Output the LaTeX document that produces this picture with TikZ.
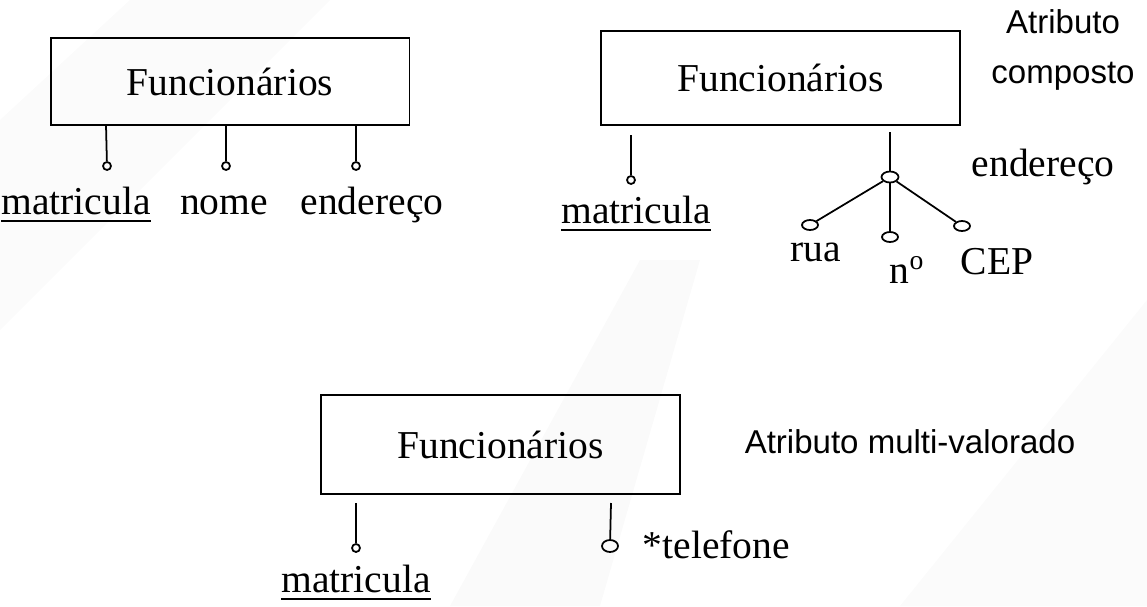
\documentclass[tikz,border=0pt]{standalone}
\usepackage{fontspec}
\setmainfont{Liberation Serif}
\newfontfamily\arialfont{Liberation Sans}
\usetikzlibrary{shapes.geometric}

\newcommand{\chave}[1]{\setbox0\hbox{#1}\rlap{\rule[-0.19em]{\wd0}{0.07em}}\box0}

\tikzset{
  entidade/.style={draw, line width=1.1pt, minimum width=7.18cm, inner sep=0pt,
    font=\fontsize{22.5}{27}\selectfont},
  atrib/.style={circle, draw, inner sep=0pt, minimum size=0.16cm},
  atribcomp/.style={ellipse, draw, inner sep=0pt, minimum width=0.34cm, minimum height=0.22cm},
  rotulo/.style={inner sep=0pt, font=\fontsize{22.5}{27}\selectfont},
  nota/.style={inner sep=0pt, align=center, font=\arialfont\fontsize{18.8}{28.4}\selectfont},
}

\begin{document}
\begin{tikzpicture}[x=0.02cm, y=-0.02cm, line width=1pt]
\useasboundingbox (0,0) rectangle (1147,606);
% fundo
\fill[gray!3] (0,120) -- (130,0) -- (330,0) -- (0,330) -- cycle;
\fill[gray!4] (450,606) -- (640,260) -- (700,260) -- (600,606) -- cycle;
\fill[gray!3] (900,606) -- (1147,300) -- (1147,606) -- cycle;

% entidade com atributos simples
\node[entidade, minimum height=1.74cm] (f1) at (230,81.5) {Funcionários};
\node[atrib] (a1) at (107,166) {};
\node[atrib] (a2) at (226,166) {};
\node[atrib] (a3) at (356,166) {};
\coordinate (t1) at (106,125);
\coordinate (t2) at (226,125);
\coordinate (t3) at (356,125);
\draw (t1) -- (a1);
\draw (t2) -- (a2);
\draw (t3) -- (a3);
\node[rotulo] (m1) at (76,205) {\chave{matricula}};
\node[rotulo] (n1) at (224,205) {nome};
\node[rotulo] (e1) at (372,205) {endereço};

% atributo composto
\node[entidade, minimum height=1.88cm] (f2) at (780.5,78) {Funcionários};
\node[atrib] (a4) at (631,180) {};
\node[atribcomp] (end) at (890,177) {};
\node[atribcomp, minimum width=0.32cm, minimum height=0.2cm] (rua) at (810,225) {};
\node[atribcomp, minimum width=0.32cm, minimum height=0.2cm] (num) at (890,237) {};
\node[atribcomp, minimum width=0.32cm, minimum height=0.2cm] (cep) at (962,226) {};
\coordinate (t4) at (631,135);
\coordinate (t5) at (890,132);
\draw (t4) -- (a4);
\draw (t5) -- (end);
\draw (end) -- (rua);
\draw (end) -- (num);
\draw (end) -- (cep);
\node[rotulo] (m2) at (636,214) {\chave{matricula}};
\node[rotulo] (e2) at (1043,167) {endereço};
\node[rotulo] (l1) at (816,252) {rua};
\node[rotulo] (l2) at (907,270) {n\textsuperscript{o}};
\node[rotulo] (l3) at (997,262) {CEP};
\node[nota] (c1) at (1063,50) {Atributo\\composto};

% atributo multivalorado
\node[entidade, minimum height=1.98cm] (f3) at (500.5,444.5) {Funcionários};
\node[atrib] (a5) at (356,548) {};
\node[atribcomp, minimum width=0.32cm, minimum height=0.24cm] (tel) at (610,546) {};
\coordinate (t6) at (356,503);
\coordinate (t7) at (611,503);
\draw (t6) -- (a5);
\draw (t7) -- (tel);
\node[rotulo] (m3) at (356,583) {\chave{matricula}};
\node[rotulo, anchor=west] (l4) at (642,545) {*telefone};
\node[nota] (c2) at (910,442) {Atributo multi-valorado};
\end{tikzpicture}
\end{document}
